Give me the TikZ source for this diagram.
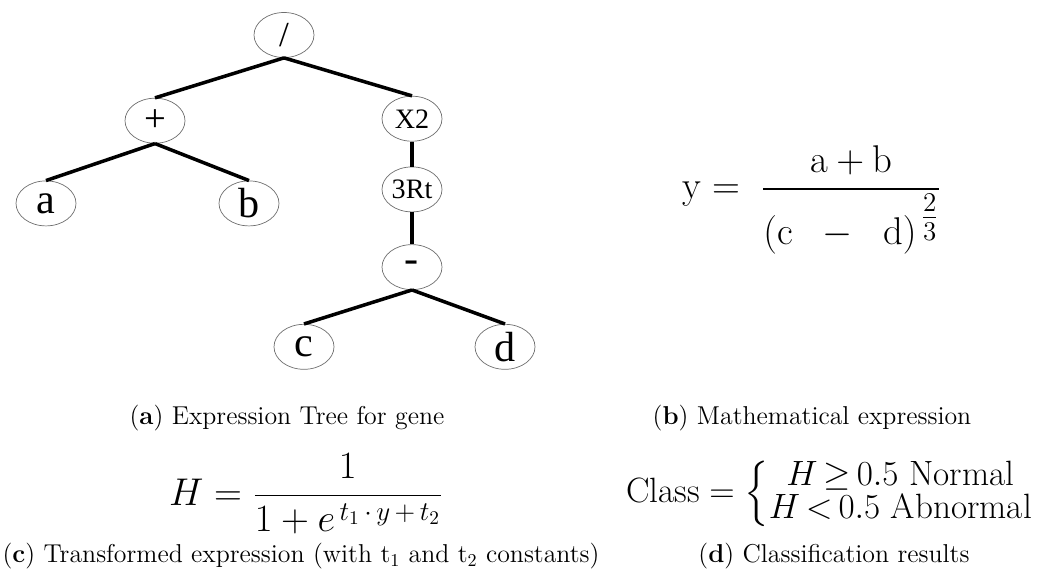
\RequirePackage{fix-cm}
\documentclass[tikz,border=0pt]{standalone}
\usepackage{amsmath}
\usepackage{fontspec}
\usepackage{tikz}
\usetikzlibrary{positioning, shapes.geometric}
\newfontfamily\treefont{Liberation Serif}
\definecolor{ring}{RGB}{110, 110, 110}

\begin{document}
\begin{tikzpicture}[
    gene/.style={ellipse, draw=ring, line width=0.4pt, minimum width=1.2cm, minimum height=0.9cm, inner sep=0pt, font=\treefont\fontsize{#1}{#1}\selectfont},
    gene/.default=16,
    branch/.style={line width=2pt, black},
    caption/.style={font=\fontsize{14.7}{17}\selectfont, inner sep=0pt},
    formula/.style={font=\fontsize{#1}{#1}\selectfont, inner sep=0pt},
    formula/.default=22
  ]
  \useasboundingbox (0,0) rectangle (20.94,-11.40);

  % Tree
  \node[gene=20] (div) at (5.68,-0.70) {/};
  \node[gene=22, below=0.80cm of div, xshift=-2.58cm] (plus) {+};
  \node[gene, below=0.76cm of div, xshift=2.56cm] (sq) {X2};
  \node[gene=24, below=0.74cm of plus, xshift=-2.18cm] (a) {a};
  \node[gene=24, below=0.74cm of plus, xshift=1.88cm] (b) {b};
  \node[gene, below=0.50cm of sq] (root3) {3Rt};
  \node[gene=24, below=0.64cm of root3] (minus) {-};
  \node[gene=24, below=0.68cm of minus, xshift=-2.16cm] (c) {c};
  \node[gene=24, below=0.68cm of minus, xshift=1.86cm] (d) {d};

  % Branches
  \draw[branch] (div.south) -- (plus.north);
  \draw[branch] (div.south) -- (sq.north);
  \draw[branch] (plus.south) -- (a.north);
  \draw[branch] (plus.south) -- (b.north);
  \draw[branch] (sq.south) -- (root3.north);
  \draw[branch] (root3.south) -- (minus.north);
  \draw[branch] (minus.south) -- (c.north);
  \draw[branch] (minus.south) -- (d.north);

  % Formulas
  \node[formula] (expr) at (16.24,-4.00)
    {$\mathrm{y} = \;\dfrac{\mathrm{a}+\mathrm{b}}{(\mathrm{c}\;\;-\;\;\mathrm{d})^{\,\tfrac{2}{3}}}$};
  \node[formula] (sigm) at (6.12,-9.88)
    {$H = \dfrac{1}{1 + e^{\,t_1 \,\cdot\, y \,+\, t_2}}$};
  \node[formula=20] (cls) at (16.60,-9.88)
    {$\mathrm{Class} = \left\{\renewcommand{\arraystretch}{0.75}\begin{array}{@{}c@{}}
      H\,{\geq}\,0.5\ \text{Normal}\\ H\,{<}\,0.5\ \text{Abnormal}\end{array}\right.$};

  % Captions
  \node[caption] (capa) at (5.74,-8.36) {(\textbf{a}) Expression Tree for gene};
  \node[caption] (capb) at (16.24,-8.36) {(\textbf{b}) Mathematical expression};
  \node[caption] (capc) at (6.02,-11.12) {(\textbf{c}) Transformed expression (with t\textsubscript{1} and t\textsubscript{2} constants)};
  \node[caption] (capd) at (16.68,-11.12) {(\textbf{d}) Classification results};

\end{tikzpicture}
\end{document}
